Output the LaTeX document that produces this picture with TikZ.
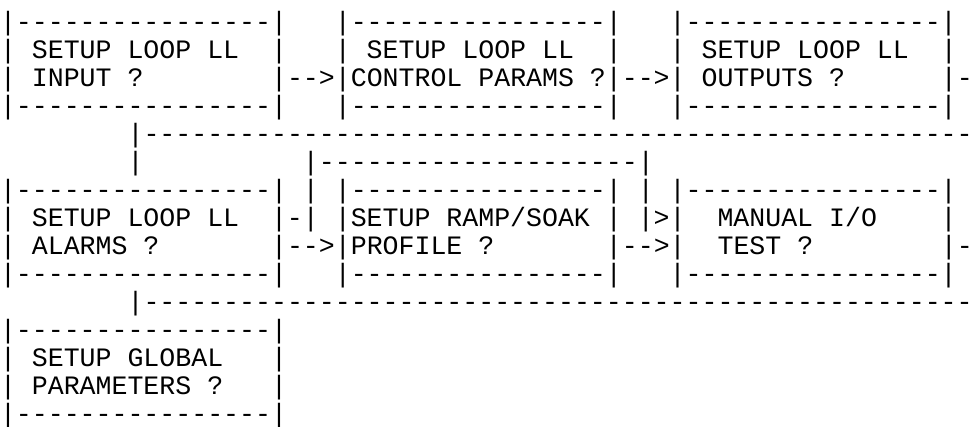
\documentclass[tikz,border=0pt]{standalone}
\usepackage{fontspec}
\newfontfamily\mono[Ligatures=TeXOff]{Liberation Mono}
\tikzset{asc/.style={anchor=base west, inner sep=0pt, outer sep=0pt, text=black,
  font=\mono\fontsize{19.93pt}{21pt}\selectfont}}
\begin{document}
\begin{tikzpicture}
\fill[white] (0,0) rectangle (729.75pt,-319.5pt);
\useasboundingbox (0,0) rectangle (729.75pt,-319.5pt);
\begin{scope}[yshift=-1.5pt]
\node[asc] (l1) at (0pt,-21pt) {|----------------|~~~|----------------|~~~|----------------|};
\node[asc] (l2) at (0pt,-42pt) {|~SETUP~LOOP~LL~~|~~~|~SETUP~LOOP~LL~~|~~~|~SETUP~LOOP~LL~~|};
\node[asc] (l3) at (0pt,-63pt) {|~INPUT~?~~~~~~~~|-->|CONTROL~PARAMS~?|-->|~OUTPUTS~?~~~~~~|-};
\node[asc] (l4) at (0pt,-84pt) {|----------------|~~~|----------------|~~~|----------------|};
\node[asc] (l5) at (0pt,-105pt) {~~~~~~~~|----------------------------------------------------};
\node[asc] (l6) at (0pt,-126pt) {~~~~~~~~|~~~~~~~~~~|--------------------|};
\node[asc] (l7) at (0pt,-147pt) {|----------------|~|~|----------------|~|~|----------------|};
\node[asc] (l8) at (0pt,-168pt) {|~SETUP~LOOP~LL~~|-|~|SETUP~RAMP/SOAK~|~|>|~~MANUAL~I/O~~~~|};
\node[asc] (l9) at (0pt,-189pt) {|~ALARMS~?~~~~~~~|-->|PROFILE~?~~~~~~~|-->|~~TEST~?~~~~~~~~|-};
\node[asc] (l10) at (0pt,-210pt) {|----------------|~~~|----------------|~~~|----------------|};
\node[asc] (l11) at (0pt,-231pt) {~~~~~~~~|----------------------------------------------------};
\node[asc] (l12) at (0pt,-252pt) {|----------------|};
\node[asc] (l13) at (0pt,-273pt) {|~SETUP~GLOBAL~~~|};
\node[asc] (l14) at (0pt,-294pt) {|~PARAMETERS~?~~~|};
\node[asc] (l15) at (0pt,-315pt) {|----------------|};
\end{scope}
\end{tikzpicture}
\end{document}
